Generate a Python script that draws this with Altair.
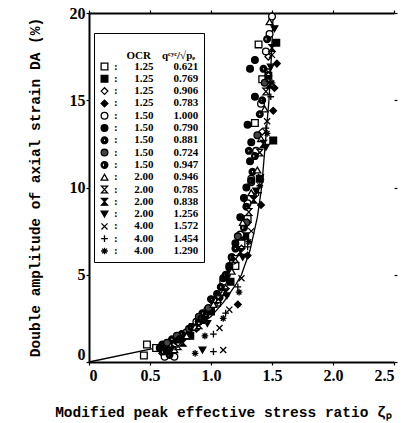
import altair as alt
import pandas as pd

# ---- legend table values ----
OCR = ["1.25", "1.25", "1.25", "1.25", "1.50", "1.50", "1.50", "1.50", "1.50",
       "2.00", "2.00", "2.00", "2.00", "4.00", "4.00", "4.00"]
QRATIO = ["0.621", "0.769", "0.906", "0.783", "1.000", "0.790", "0.881", "0.724", "0.947",
          "0.946", "0.785", "0.838", "1.256", "1.572", "1.454", "1.290"]

# ---- data points per test (zeta_p, DA %) ----
X01 = [0.45, 0.475, 0.62, 0.85, 1.05, 1.20, 1.30, 1.36, 1.39, 1.42, 0.55, 0.95, 1.25]
Y01 = [0.37, 1.0, 0.9, 2.0, 3.4, 5.5, 8.2, 13.7, 18.2, 16.2, 0.8, 2.7, 6.8]
X02 = [0.66, 0.83, 1.00, 1.16, 1.28, 1.40, 1.51, 1.535, 1.47]
Y02 = [0.6, 1.5, 2.9, 4.6, 7.2, 10.5, 12.7, 18.3, 16.4]
X03 = [0.60, 0.78, 0.95, 1.12, 1.25, 1.35, 1.42, 1.47, 0.70, 1.05, 1.30]
Y03 = [0.5, 1.5, 2.6, 4.2, 6.5, 9.5, 13.2, 17.5, 1.0, 3.5, 8.0]
X04 = [0.68, 0.88, 1.22, 1.30, 1.41, 1.51, 1.52, 1.54]
Y04 = [0.8, 1.9, 3.3, 6.1, 9.0, 14.4, 15.7, 17.1]
X05 = [0.62, 0.70, 0.65, 0.80, 0.97, 1.10, 1.18, 1.30, 1.37, 1.45, 1.48, 1.50,
       0.75, 0.88, 1.02, 1.24, 1.33, 1.41]
Y05 = [0.3, 0.3, 1.0, 1.7, 3.0, 4.6, 5.8, 9.1, 12.1, 17.8, 18.8, 19.8,
       1.3, 2.3, 3.5, 7.3, 10.5, 14.8]
X06 = [0.58, 0.72, 0.90, 1.05, 1.15, 1.24, 1.29, 1.32, 1.36, 1.36, 1.33,
       0.63, 0.82, 0.98, 1.10, 1.20, 1.27, 1.30, 1.32]
Y06 = [0.8, 1.2, 2.3, 3.9, 5.5, 8.3, 10.0, 11.5, 15.2, 17.3, 12.6,
       0.9, 1.6, 3.0, 4.8, 6.8, 9.4, 13.6, 16.8]
X07 = [0.60, 0.76, 0.93, 1.08, 1.20, 1.29, 1.34, 1.40, 1.43, 0.68, 1.00, 1.15, 1.31]
Y07 = [1.0, 1.6, 2.8, 4.3, 6.5, 8.9, 10.9, 14.2, 16.8, 1.3, 3.6, 5.4, 12.1]
X08 = [0.64, 0.82, 0.98, 1.13, 1.22, 1.33, 1.38, 1.44, 0.72, 0.90, 1.17, 1.29]
Y08 = [1.1, 1.9, 3.1, 5.0, 7.2, 10.3, 13.0, 16.0, 1.5, 2.6, 6.0, 8.0]
X09 = [0.66, 0.74, 0.92, 1.07, 1.17, 1.27, 1.36, 1.42, 1.46, 0.61, 0.84, 1.12, 1.33]
Y09 = [0.4, 1.3, 2.5, 3.7, 6.0, 7.7, 11.8, 15.0, 18.5, 0.6, 2.0, 5.0, 10.4]
X10 = [0.70, 0.87, 1.02, 1.17, 1.26, 1.38, 1.44, 1.48, 0.80, 1.10, 1.33, 1.41]
Y10 = [0.7, 2.0, 3.3, 5.2, 8.0, 11.0, 14.5, 19.5, 1.5, 4.0, 9.7, 12.8]
X11 = [0.73, 0.90, 1.06, 1.20, 1.31, 1.40, 1.45, 1.47]
Y11 = [0.9, 2.1, 3.6, 5.9, 8.6, 12.0, 15.5, 16.6]
X12 = [0.77, 0.95, 1.12, 1.24, 1.35, 1.43, 1.48, 1.50]
Y12 = [1.1, 2.4, 4.0, 6.3, 9.3, 12.5, 15.9, 18.0]
X13 = [0.93, 0.97, 1.13, 1.26, 1.37, 1.45, 1.49, 1.52]
Y13 = [0.69, 2.2, 3.8, 6.0, 9.8, 12.3, 16.9, 19.1]
X14 = [1.10, 1.07, 1.15, 1.25, 1.33, 1.41, 1.46, 1.50]
Y14 = [0.69, 1.95, 3.0, 4.8, 7.5, 10.6, 13.8, 17.6]
X15 = [1.02, 1.02, 1.12, 1.22, 1.30, 1.39, 1.45, 1.49]
Y15 = [0.6, 1.6, 2.8, 4.3, 6.6, 9.7, 13.4, 15.2]
X16 = [0.87, 0.95, 1.10, 1.23, 1.31, 1.40, 1.46, 1.50]
Y16 = [0.5, 1.5, 2.5, 4.0, 6.9, 10.1, 13.1, 16.0]

# ---- fitted curve ----
CURVE_X = [0.0, 0.60, 0.75, 0.90, 1.00, 1.10, 1.20, 1.25, 1.32, 1.38, 1.415, 1.445, 1.475, 1.495, 1.51]
CURVE_Y = [0.0, 0.88, 1.45, 2.1, 2.6, 3.4, 4.4, 5.0, 6.4, 8.3, 10.0, 12.5, 15.0, 17.5, 20.0]

XS = [X01, X02, X03, X04, X05, X06, X07, X08, X09, X10, X11, X12, X13, X14, X15, X16]
YS = [Y01, Y02, Y03, Y04, Y05, Y06, Y07, Y08, Y09, Y10, Y11, Y12, Y13, Y14, Y15, Y16]

# ---- marker styles ----
RING_DOT = "M-1,0A1,1,0,1,1,1,0A1,1,0,1,1,-1,0ZM-0.4,0A0.4,0.4,0,1,0,0.4,0A0.4,0.4,0,1,0,-0.4,0Z"
HALF = ("M-1,0A1,1,0,1,1,1,0A1,1,0,1,1,-1,0Z"
        "M-0.7,0A0.7,0.7,0,1,0,0.7,0A0.7,0.7,0,1,0,-0.7,0Z"
        "M0,-0.7A0.7,0.7,0,0,1,0,0.7Z")
HOURGLASS = "M-0.9,-1L0.9,-1L-0.9,1L0.9,1Z"
XSHAPE = "M-0.9,-0.9L0.9,0.9M-0.9,0.9L0.9,-0.9"
PLUS = "M-1,0L1,0M0,-1L0,1"
STAR = "M-1,0L1,0M0,-1L0,1M-0.7,-0.7L0.7,0.7M-0.7,0.7L0.7,-0.7"

SHAPES = ["square", "square", "diamond", "diamond", "circle", "circle", RING_DOT, "circle",
          HALF, "triangle-up", HOURGLASS, HOURGLASS, "triangle-down", XSHAPE, PLUS, STAR]
FILLS = ["white", "black", "white", "black", "white", "black", "black", "#444444",
         "black", "white", "white", "black", "black", "black", "black", "black"]
STROKES = ["black"] * 16

LABELS = [":\u2003\u2002" + o + "\u2003\u2002\u2004" + q for o, q in zip(OCR, QRATIO)]

rows = []
for lab, xs, ys in zip(LABELS, XS, YS):
    for x, y in zip(xs, ys):
        rows.append({"series": lab, "x": x, "y": y})
points_df = pd.DataFrame(rows)
curve_df = pd.DataFrame({"x": CURVE_X, "y": CURVE_Y})

xscale = alt.Scale(domain=[0, 2.5], nice=False)
yscale = alt.Scale(domain=[0, 20], nice=False)
XTICKS = [0, 0.5, 1.0, 1.5, 2.0, 2.5]
YTICKS = [0, 5, 10, 15, 20]

TITLE_FONT = "Liberation Mono"
LABEL_FONT = "Liberation Serif"

x_axis = alt.Axis(
    values=XTICKS, grid=False, domainWidth=2, domainColor="black", tickColor="black",
    tickSize=3, tickWidth=1.2, labelPadding=2,
    labelExpr="datum.value == 0 ? '0' : format(datum.value, '.1f')",
    labelFont=LABEL_FONT, labelFontWeight="bold", labelFontSize=16, labelColor="black",
    title="Modified peak effective stress ratio  \u03b6\u209a",
    titleFont=TITLE_FONT, titleFontWeight="bold", titleFontSize=14.5, titleColor="black",
    titleX=134, titleY=50, titleAlign="center", titleBaseline="middle",
)
y_axis = alt.Axis(
    values=YTICKS, grid=False, domainWidth=2, domainColor="black", tickColor="black",
    tickSize=3, tickWidth=1.2, labelPadding=1, format="d",
    labelBaseline={"condition": {"test": "datum.value == 0", "value": "bottom"}, "value": "middle"},
    labelFont=LABEL_FONT, labelFontWeight="bold", labelFontSize=16, labelColor="black",
    title="Double amplitude of axial strain  DA (%)",
    titleFont=TITLE_FONT, titleFontWeight="bold", titleFontSize=14.5, titleColor="black",
    titleX=-54, titleY=174, titleAngle=270, titleAlign="center", titleBaseline="middle",
)

curve = alt.Chart(curve_df).mark_line(color="black", strokeWidth=1.3).encode(
    x=alt.X("x:Q", scale=xscale, axis=x_axis),
    y=alt.Y("y:Q", scale=yscale, axis=y_axis),
)

legend = alt.Legend(
    title=["", "\u200b\u2003\u2003\u2002OCR\u2003q\u1d9c\u02b8\u1d9c/\u221ap\u2091\u2002"],
    orient="none", legendX=5, legendY=20,
    strokeColor="black", fillColor="white", padding=5,
    titleFont=LABEL_FONT, titleFontWeight="bold", titleFontSize=11, titleColor="black",
    titleLineHeight=12, titlePadding=0,
    labelFont=LABEL_FONT, labelFontWeight="bold", labelFontSize=11, labelColor="black",
    labelOffset=4, rowPadding=-0.7, symbolSize=45,
    symbolStrokeColor="black", symbolStrokeWidth=1.3,
)

pts = alt.Chart(points_df).mark_point(filled=True, size=45, strokeWidth=1.3, opacity=1).encode(
    x=alt.X("x:Q", scale=xscale, axis=None),
    y=alt.Y("y:Q", scale=yscale, axis=None),
    shape=alt.Shape("series:N", scale=alt.Scale(domain=LABELS, range=SHAPES), legend=legend),
    fill=alt.Fill("series:N", scale=alt.Scale(domain=LABELS, range=FILLS), legend=legend),
    stroke=alt.Stroke("series:N", scale=alt.Scale(domain=LABELS, range=STROKES), legend=legend),
)

frame = alt.Chart(curve_df).mark_point(opacity=0).encode(
    x=alt.X("x:Q", scale=xscale, axis=alt.Axis(orient="top", values=XTICKS, labels=False, title=None,
                                               grid=False, domainWidth=2, domainColor="black",
                                               tickColor="black", tickSize=3, tickWidth=1.2)),
    y=alt.Y("y:Q", scale=yscale, axis=alt.Axis(orient="right", values=YTICKS, labels=False, title=None,
                                               grid=False, domain=False,
                                               tickColor="black", tickSize=3, tickWidth=1.2)),
)

chart = alt.layer(curve, frame, pts).resolve_axis(x="independent", y="independent").properties(
    width=305, height=349,
    autosize=alt.AutoSizeParams(type="none"),
    padding={"left": 89, "top": 13, "right": 11, "bottom": 61},
    background="white",
).configure_view(stroke=None)

chart.save("out.html", embed_options={"renderer": "svg", "actions": False})
